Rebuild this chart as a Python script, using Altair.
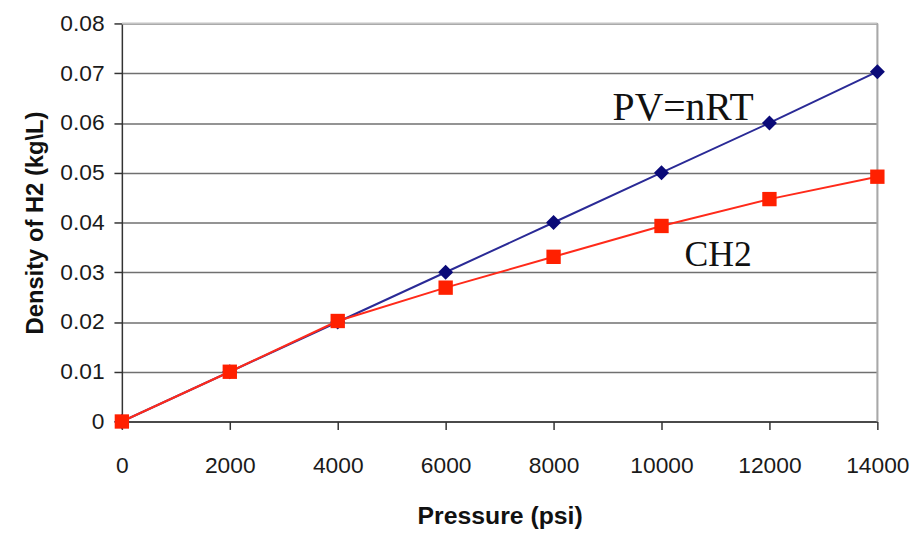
import altair as alt
import pandas as pd

pressure = [0, 2000, 4000, 6000, 8000, 10000, 12000, 14000]
pvnrt = [0.0, 0.010, 0.020, 0.030, 0.040, 0.050, 0.060, 0.0703]
ch2 = [0.0, 0.010, 0.0202, 0.0269, 0.0331, 0.0393, 0.0447, 0.0492]

label_pv = {"t": ["PV=nRT"], "x": [10400], "y": [0.0629]}
label_ch = {"t": ["CH2"], "x": [11050], "y": [0.0335]}

y_ticks = [0, 0.01, 0.02, 0.03, 0.04, 0.05, 0.06, 0.07, 0.08]
x_ticks = [0, 2000, 4000, 6000, 8000, 10000, 12000, 14000]

df_pv = pd.DataFrame({"p": pressure, "d": pvnrt})
df_ch = pd.DataFrame({"p": pressure, "d": ch2})

FONT = "Liberation Sans"

xs = alt.Scale(domain=[0, 14000], nice=False, zero=False)
ys = alt.Scale(domain=[0, 0.08], nice=False)

x_axis = alt.Axis(values=x_ticks, format="d", grid=False, title="Pressure (psi)",
                  labelFontSize=23, titleFontSize=25, labelFont=FONT, titleFont=FONT,
                  titleFontWeight="bold", labelColor="#1a1a1a", titleColor="#111",
                  domainColor="#333", domainWidth=1.5, tickColor="#333", tickWidth=1.5,
                  tickSize=8, labelPadding=26, titlePadding=26, labelFlush=False)
y_axis = alt.Axis(values=y_ticks, format=".2~f", grid=True, gridColor="#707070", gridWidth=1.5,
                  title="Density of H2 (kg\\L)", labelFontSize=23, titleFontSize=24,
                  labelFont=FONT, titleFont=FONT, titleFontWeight="bold",
                  labelColor="#1a1a1a", titleColor="#111", domainColor="#333", domainWidth=1.5,
                  tickColor="#333", tickWidth=1.5, tickSize=8, labelPadding=10, titlePadding=12)

base_pv = alt.Chart(df_pv)
line_pv = base_pv.mark_line(color="#2a2a96", strokeWidth=2).encode(
    x=alt.X("p:Q", scale=xs, axis=x_axis), y=alt.Y("d:Q", scale=ys, axis=y_axis))
pts_pv = base_pv.mark_point(shape="diamond", filled=True, size=230, color="#0a0a78", opacity=1).encode(
    x=alt.X("p:Q", scale=xs), y=alt.Y("d:Q", scale=ys))

base_ch = alt.Chart(df_ch)
line_ch = base_ch.mark_line(color="#ff2a1a", strokeWidth=2).encode(
    x=alt.X("p:Q", scale=xs), y=alt.Y("d:Q", scale=ys))
pts_ch = base_ch.mark_point(shape="square", filled=True, size=210, color="#ff2000", opacity=1).encode(
    x=alt.X("p:Q", scale=xs), y=alt.Y("d:Q", scale=ys))

top_rule = alt.Chart(pd.DataFrame({"y": [0.08]})).mark_rule(color="#c4c4c4", strokeWidth=2).encode(
    y=alt.Y("y:Q", scale=ys))
right_rule = alt.Chart(pd.DataFrame({"x": [14000]})).mark_rule(color="#a8a8a8", strokeWidth=2).encode(
    x=alt.X("x:Q", scale=xs))

text_pv = alt.Chart(pd.DataFrame(label_pv)).mark_text(font="Liberation Serif", fontSize=40, color="#111").encode(
    x=alt.X("x:Q", scale=xs), y=alt.Y("y:Q", scale=ys), text="t:N")
text_ch = alt.Chart(pd.DataFrame(label_ch)).mark_text(font="Liberation Serif", fontSize=36, color="#111").encode(
    x=alt.X("x:Q", scale=xs), y=alt.Y("y:Q", scale=ys), text="t:N")

chart = alt.layer(top_rule, right_rule, line_pv, pts_pv, line_ch, pts_ch, text_pv, text_ch).properties(
    width=763, height=402, padding={"left": 16, "top": 2, "right": 5, "bottom": 2}
).configure_view(stroke=None).configure(background="white")

chart.save("out.html", embed_options={"renderer": "svg", "actions": False})
